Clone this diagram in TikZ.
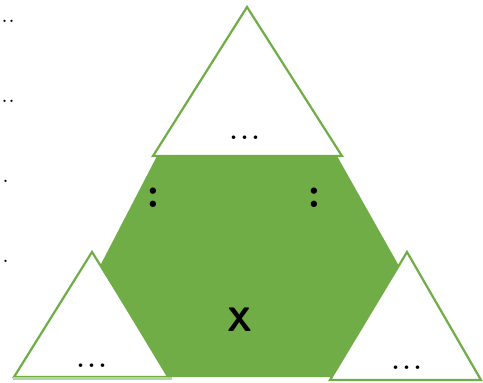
\documentclass[tikz,border=0pt]{standalone}
\usepackage{xcolor}
\definecolor{grn}{HTML}{70AD47}
\definecolor{lgrn}{HTML}{B5D6A0}
\begin{document}
\begin{tikzpicture}[x=1pt,y=-1pt,
  tri/.style={draw=grn,line width=2.2pt,fill=white,line join=miter},
  hexa/.style={fill=grn,draw=none},
  dots/.style={inner sep=0pt,font=\fontsize{44}{44}\selectfont},
  sdots/.style={inner sep=0pt,font=\fontsize{28}{28}\selectfont},
  colon/.style={inner sep=0pt,font=\fontsize{44}{44}\selectfont\bfseries},
  bigx/.style={inner sep=0pt,font=\fontsize{34}{34}\selectfont\bfseries\sffamily}]
\useasboundingbox (0,0) rectangle (483,383);
% top triangle
\draw[tri] (247,7) -- (342,156) -- (153,156) -- cycle;
% bottom-left triangle
\draw[tri] (92,252) -- (170,377) -- (14,377) -- cycle;
\draw[lgrn,line width=3pt] (13,378.5) -- (172,378.5);
% bottom-right triangle
\draw[tri] (407,252) -- (481,380) -- (330,380) -- cycle;
% hexagon
\fill[hexa] (157,156) -- (337,156) -- (399,266) -- (332,377) -- (167,377) -- (100,266) -- cycle;
% texts
\node[dots] (t1) at (245,138) {...};
\node[dots] (t2) at (92,366) {...};
\node[dots] (t3) at (407,368) {...};
\node[colon] (c1) at (153,198) {:};
\node[colon] (c2) at (314,198) {:};
\node[bigx] (x) at (240,320) {X};
\node[sdots,anchor=west] (l1) at (1,21) {..};
\node[sdots,anchor=west] (l2) at (1,101) {..};
\node[sdots,anchor=west] (l3) at (2,181) {.};
\node[sdots,anchor=west] (l4) at (2,261) {.};
\end{tikzpicture}
\end{document}
